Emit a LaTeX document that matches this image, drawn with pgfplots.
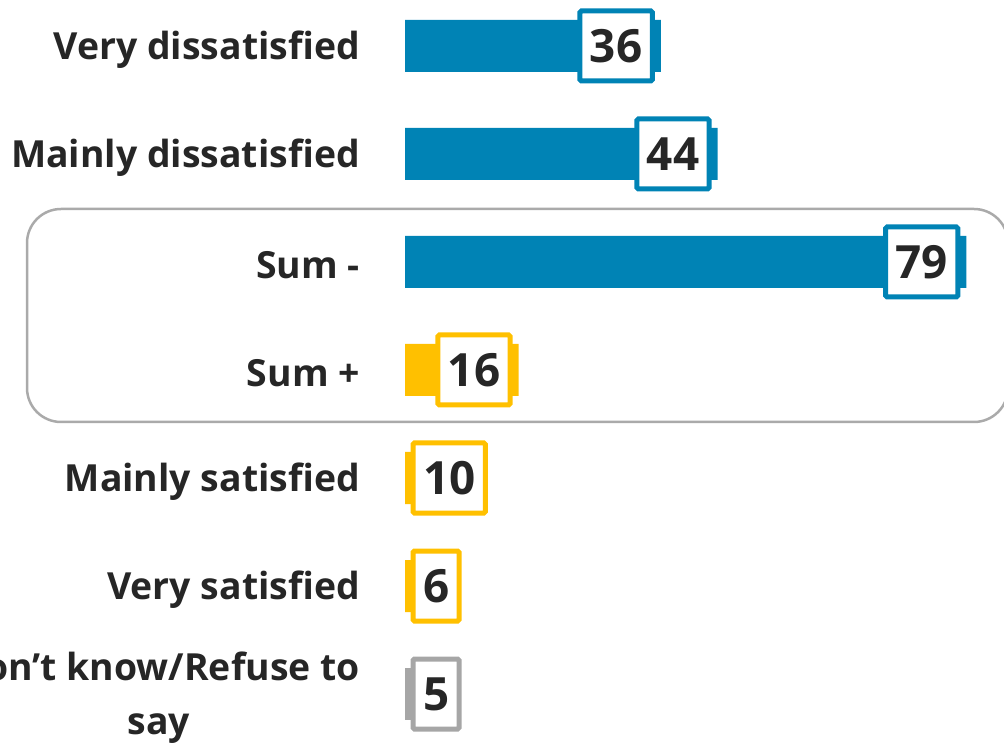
\documentclass[border=0pt]{standalone}
\usepackage{fontspec}
\setmainfont{Open Sans}
\usepackage{pgfplots}
\pgfplotsset{compat=1.18}

\definecolor{barblue}{RGB}{0,131,181}
\definecolor{baryellow}{RGB}{255,192,0}
\definecolor{bargray}{RGB}{166,166,166}
\definecolor{txt}{RGB}{38,38,38}
\definecolor{framegray}{RGB}{170,170,170}

\tikzset{valbox/.style={draw=#1, line width=5bp, fill=white, rounded corners=1.5bp,
    text=txt, inner xsep=10bp, inner ysep=0pt, minimum height=70bp,
    text height=33bp, text depth=0bp}}
\newcommand{\valfont}{\fontsize{46}{46}\selectfont\bfseries}

\begin{document}
\begin{tikzpicture}[x=1bp,y=1bp]
% frame round the two sums
\draw[framegray, line width=2.5bp, rounded corners=34bp] (27,321) rectangle (1008,534);
\begin{axis}[
    at={(405bp,751bp)}, anchor=north west,
    scale only axis, width=599bp, height=756bp,
    xmin=0, xmax=84.3, ymin=-0.5, ymax=6.5, y dir=reverse,
    axis line style={draw=none},
    xtick=\empty,
    ytick={0,...,6},
    yticklabels={Very dissatisfied, Mainly dissatisfied, Sum -, Sum +,
        Mainly satisfied, Very satisfied, {Don’t know/Refuse to\\say}},
    yticklabel style={font=\fontsize{37.5}{54}\selectfont\bfseries, text=txt,
        align=center, anchor=east, inner sep=0pt, xshift=-45bp, yshift=-3.5bp},
    major tick style={draw=none},
    clip=false,
]
% bars
\addplot[xbar, bar width=52bp, bar shift=0pt, fill=barblue, draw=none]
    coordinates {(36,0) (44,1) (79,2)};
\addplot[xbar, bar width=52bp, bar shift=0pt, fill=baryellow, draw=none]
    coordinates {(16,3) (10,4) (6,5)};
\addplot[xbar, bar width=52bp, bar shift=0pt, fill=bargray, draw=none]
    coordinates {(5,6)};

% value boxes at the bar end
\addplot[draw=none, mark=none, point meta=explicit symbolic,
    nodes near coords={\valfont\pgfplotspointmeta},
    nodes near coords style={valbox=barblue, anchor=east, xshift=-6bp}]
    coordinates {(36,0) [36] (44,1) [44] (79,2) [79]};
\addplot[draw=none, mark=none, point meta=explicit symbolic,
    nodes near coords={\valfont\pgfplotspointmeta},
    nodes near coords style={valbox=baryellow, anchor=east, xshift=-6bp}]
    coordinates {(16,3) [16]};
% short bars: box starts at the axis
\addplot[draw=none, mark=none, point meta=explicit symbolic,
    nodes near coords={\valfont\pgfplotspointmeta},
    nodes near coords style={valbox=baryellow, anchor=west, xshift=5.5bp}]
    coordinates {(0,4) [10] (0,5) [6]};
\addplot[draw=none, mark=none, point meta=explicit symbolic,
    nodes near coords={\valfont\pgfplotspointmeta},
    nodes near coords style={valbox=bargray, anchor=west, xshift=5.5bp}]
    coordinates {(0,6) [5]};
\end{axis}
\pgfresetboundingbox
\path[use as bounding box] (0,0) rectangle (1004,743);
\end{tikzpicture}
\end{document}
